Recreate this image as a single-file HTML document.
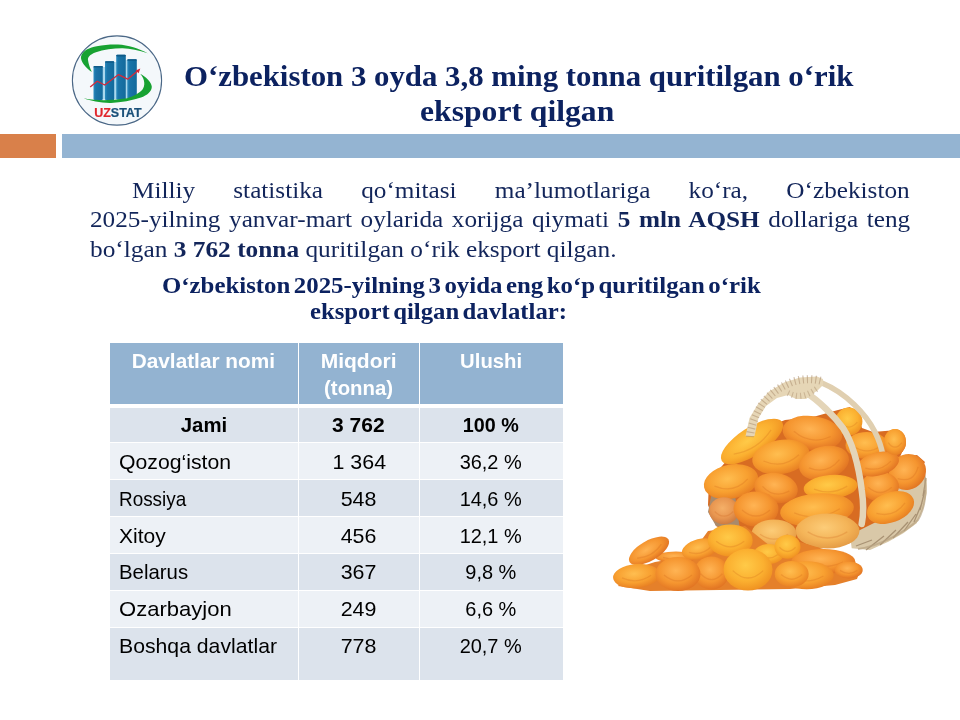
<!DOCTYPE html>
<html><head><meta charset="utf-8">
<style>
html,body{margin:0;padding:0;background:#fff;}
body{width:960px;height:720px;position:relative;overflow:hidden;}
#ttl,#body,#sub,#tbl,#logo{will-change:transform;}
.a{position:absolute;white-space:nowrap;}
.serif{font-family:"Liberation Serif",serif;}
.sans{font-family:"Liberation Sans",sans-serif;}
#ttl div{position:absolute;font-family:"Liberation Serif",serif;font-weight:bold;color:#0c2260;font-size:28.7px;line-height:28.7px;transform-origin:0 0;white-space:nowrap;}
#body div{position:absolute;font-family:"Liberation Serif",serif;color:#12255a;font-size:23.8px;line-height:23.8px;transform-origin:0 0;white-space:nowrap;}
#sub div{position:absolute;font-family:"Liberation Serif",serif;font-weight:bold;color:#0c2260;font-size:23px;line-height:23px;transform-origin:0 0;white-space:nowrap;}
.cell{position:absolute;}
.t{position:absolute;font-family:"Liberation Sans",sans-serif;font-size:18px;line-height:18px;color:#000;white-space:nowrap;}
.th{position:absolute;font-family:"Liberation Sans",sans-serif;font-weight:bold;font-size:18px;line-height:18px;color:#fff;white-space:nowrap;}
</style></head>
<body>
<!-- bars -->
<div class="a" style="left:0;top:134px;width:56px;height:24px;background:#d9804a;"></div>
<div class="a" style="left:62px;top:134px;width:898px;height:24px;background:#94b4d2;"></div>

<!-- logo placeholder -->
<svg id="logo" class="a" style="left:66px;top:30px;" width="100" height="100" viewBox="0 0 100 100">
<defs>
<linearGradient id="bg" x1="0" x2="1" y1="0" y2="0">
<stop offset="0" stop-color="#2b8cc0"/><stop offset="0.25" stop-color="#1a74a8"/><stop offset="1" stop-color="#136a9c"/>
</linearGradient>
</defs>
<circle cx="51" cy="50.5" r="44.6" fill="#f4f8fb" stroke="#4a6786" stroke-width="1.1"/>
<path d="M25.8,42.1 C19,37 14.5,31 15,26.7 C16,21 24,17 30.8,16.25 C38,14.8 45,14.4 52,14.6 C62,15.2 73,18.5 81.7,23.3 C73,20.5 64,18.6 56.7,18.3 C48,18.2 38,19.6 29.2,22.5 C24,24.5 21.5,27.5 22,30 C22.5,34 24,38 25.8,42.1 Z" fill="#17a232"/>
<g fill="#a9d8ee"><rect x="36.6" y="37" width="2.6" height="32.5"/><rect x="48" y="32" width="2.4" height="37"/><rect x="59.6" y="30" width="1.9" height="38"/></g>
<g fill="url(#bg)">
<rect x="27.5" y="36" width="9.3" height="34" rx="1.2"/>
<rect x="39" y="31.25" width="9.2" height="39" rx="1.2"/>
<rect x="50.2" y="24.8" width="9.6" height="45" rx="1.2"/>
<rect x="61.25" y="29.2" width="9.55" height="39.3" rx="1.2"/>
</g>
<g fill="#0e5a88"><rect x="27.5" y="36" width="9.3" height="1.6" rx="0.8"/><rect x="39" y="31.25" width="9.2" height="1.6" rx="0.8"/><rect x="50.2" y="24.8" width="9.6" height="1.6" rx="0.8"/><rect x="61.25" y="29.2" width="9.55" height="1.6" rx="0.8"/></g>
<polyline points="24.2,57.1 31.25,51.25 38.75,55 52.5,44.6 61.7,49.2 71.8,40.8" fill="none" stroke="#d42a3a" stroke-width="1.3" stroke-linejoin="round"/>
<path d="M74.3,38.6 L69.6,40.6 L72.6,43.2 Z" fill="#d42a3a"/>
<path d="M74.2,43.75 C80,47 85.5,52 85.8,56.7 C86,61 81,65.5 75,67.5 C66,70.5 55,72.6 45,72.9 C35,73.1 25,71 17.5,68.3 C25,69.8 32,70.2 38,70.2 C48,70 56,69 61,68.3 C67,66.5 73,63.5 76.5,59.5 C79,56 79.5,50 74.2,43.75 Z" fill="#17a232"/>
<text x="28.2" y="87.4" font-family="Liberation Sans, sans-serif" font-weight="bold" font-size="12.4" stroke-width="0.2" textLength="47.4" lengthAdjust="spacingAndGlyphs"><tspan fill="#e0262c" stroke="#e0262c">UZ</tspan><tspan fill="#1a5079" stroke="#1a5079">STAT</tspan></text>
</svg>

<!-- title -->
<div id="ttl">
<div style="left:184px;top:62px;transform:scaleX(1.074);">O‘zbekiston 3 oyda 3,8 ming tonna quritilgan o‘rik</div>
<div style="left:420px;top:97px;transform:scaleX(1.103);">eksport qilgan</div>
</div>

<!-- body paragraph -->
<div id="body">
<div style="left:132px;top:179.4px;width:733px;text-align:justify;text-align-last:justify;transform:scaleX(1.061);">Milliy statistika qo‘mitasi ma’lumotlariga ko‘ra, O‘zbekiston</div>
<div style="left:90px;top:208.3px;width:773px;text-align:justify;text-align-last:justify;transform:scaleX(1.061);">2025-yilning yanvar-mart oylarida xorijga qiymati <b>5 mln AQSH</b> dollariga teng</div>
<div style="left:90px;top:237.5px;transform:scaleX(1.065);">bo‘lgan <b>3 762 tonna</b> quritilgan o‘rik eksport qilgan.</div>
</div>

<!-- subtitle -->
<div id="sub">
<div style="left:162px;top:273.6px;word-spacing:-2.5px;transform:scaleX(1.08);">O‘zbekiston 2025-yilning 3 oyida eng ko‘p quritilgan o‘rik</div>
<div style="left:310px;top:300.4px;word-spacing:-2.5px;transform:scaleX(1.075);">eksport qilgan davlatlar:</div>
</div>

<!-- table -->
<div id="tbl">
<div class="cell" style="left:110px;top:343px;width:188px;height:61px;background:#93b3d1;"></div>
<div class="cell" style="left:299px;top:343px;width:120px;height:61px;background:#93b3d1;"></div>
<div class="cell" style="left:420px;top:343px;width:143px;height:61px;background:#93b3d1;"></div>
<div class="cell" style="left:110px;top:408px;width:188px;height:34px;background:#dce3ec;"></div>
<div class="cell" style="left:299px;top:408px;width:120px;height:34px;background:#dce3ec;"></div>
<div class="cell" style="left:420px;top:408px;width:143px;height:34px;background:#dce3ec;"></div>
<div class="cell" style="left:110px;top:443px;width:188px;height:36px;background:#edf1f6;"></div>
<div class="cell" style="left:299px;top:443px;width:120px;height:36px;background:#edf1f6;"></div>
<div class="cell" style="left:420px;top:443px;width:143px;height:36px;background:#edf1f6;"></div>
<div class="cell" style="left:110px;top:480px;width:188px;height:36px;background:#dce3ec;"></div>
<div class="cell" style="left:299px;top:480px;width:120px;height:36px;background:#dce3ec;"></div>
<div class="cell" style="left:420px;top:480px;width:143px;height:36px;background:#dce3ec;"></div>
<div class="cell" style="left:110px;top:517px;width:188px;height:36px;background:#edf1f6;"></div>
<div class="cell" style="left:299px;top:517px;width:120px;height:36px;background:#edf1f6;"></div>
<div class="cell" style="left:420px;top:517px;width:143px;height:36px;background:#edf1f6;"></div>
<div class="cell" style="left:110px;top:554px;width:188px;height:36px;background:#dce3ec;"></div>
<div class="cell" style="left:299px;top:554px;width:120px;height:36px;background:#dce3ec;"></div>
<div class="cell" style="left:420px;top:554px;width:143px;height:36px;background:#dce3ec;"></div>
<div class="cell" style="left:110px;top:591px;width:188px;height:36px;background:#edf1f6;"></div>
<div class="cell" style="left:299px;top:591px;width:120px;height:36px;background:#edf1f6;"></div>
<div class="cell" style="left:420px;top:591px;width:143px;height:36px;background:#edf1f6;"></div>
<div class="cell" style="left:110px;top:628px;width:188px;height:52px;background:#dce3ec;"></div>
<div class="cell" style="left:299px;top:628px;width:120px;height:52px;background:#dce3ec;"></div>
<div class="cell" style="left:420px;top:628px;width:143px;height:52px;background:#dce3ec;"></div>
<div class="th" style="left:53.400000000000006px;width:300px;text-align:center;top:349.82px;font-size:21px;line-height:21px;"><span style="display:inline-block;transform:scaleX(0.99);">Davlatlar nomi</span></div>
<div class="th" style="left:208.60000000000002px;width:300px;text-align:center;top:350.02px;font-size:21px;line-height:21px;"><span style="display:inline-block;transform:scaleX(1.0);">Miqdori</span></div>
<div class="th" style="left:208.7px;width:300px;text-align:center;top:376.72px;font-size:21px;line-height:21px;"><span style="display:inline-block;transform:scaleX(0.97);">(tonna)</span></div>
<div class="th" style="left:340.8px;width:300px;text-align:center;top:349.92px;font-size:21px;line-height:21px;"><span style="display:inline-block;transform:scaleX(0.965);">Ulushi</span></div>
<div class="t" style="left:54px;width:300px;text-align:center;top:414.42px;font-size:21px;line-height:21px;"><span style="display:inline-block;transform:scaleX(0.97);"><b>Jami</b></span></div>
<div class="t" style="left:208.3px;width:300px;text-align:center;top:414.42px;font-size:21px;line-height:21px;"><span style="display:inline-block;transform:scaleX(1.0);"><b>3 762</b></span></div>
<div class="t" style="left:340.7px;width:300px;text-align:center;top:414.42px;font-size:21px;line-height:21px;"><span style="display:inline-block;transform:scaleX(0.94);"><b>100 %</b></span></div>
<div class="t" style="left:119px;top:450.82px;font-size:21px;line-height:21px;transform-origin:0 0;transform:scaleX(1.01);">Qozog‘iston</div>
<div class="t" style="left:208.8px;width:300px;text-align:center;top:450.82px;font-size:21px;line-height:21px;"><span style="display:inline-block;transform:scaleX(1.02);">1 364</span></div>
<div class="t" style="left:341px;width:300px;text-align:center;top:450.82px;font-size:21px;line-height:21px;"><span style="display:inline-block;transform:scaleX(0.95);">36,2 %</span></div>
<div class="t" style="left:119px;top:488.22px;font-size:21px;line-height:21px;transform-origin:0 0;transform:scaleX(0.9);">Rossiya</div>
<div class="t" style="left:208.8px;width:300px;text-align:center;top:488.22px;font-size:21px;line-height:21px;"><span style="display:inline-block;transform:scaleX(1.02);">548</span></div>
<div class="t" style="left:341px;width:300px;text-align:center;top:488.22px;font-size:21px;line-height:21px;"><span style="display:inline-block;transform:scaleX(0.95);">14,6 %</span></div>
<div class="t" style="left:119px;top:524.62px;font-size:21px;line-height:21px;transform-origin:0 0;transform:scaleX(1.0);">Xitoy</div>
<div class="t" style="left:208.8px;width:300px;text-align:center;top:524.62px;font-size:21px;line-height:21px;"><span style="display:inline-block;transform:scaleX(1.02);">456</span></div>
<div class="t" style="left:341px;width:300px;text-align:center;top:524.62px;font-size:21px;line-height:21px;"><span style="display:inline-block;transform:scaleX(0.95);">12,1 %</span></div>
<div class="t" style="left:119px;top:561.22px;font-size:21px;line-height:21px;transform-origin:0 0;transform:scaleX(0.97);">Belarus</div>
<div class="t" style="left:208.8px;width:300px;text-align:center;top:561.22px;font-size:21px;line-height:21px;"><span style="display:inline-block;transform:scaleX(1.02);">367</span></div>
<div class="t" style="left:341px;width:300px;text-align:center;top:561.22px;font-size:21px;line-height:21px;"><span style="display:inline-block;transform:scaleX(0.95);">9,8 %</span></div>
<div class="t" style="left:119px;top:598.42px;font-size:21px;line-height:21px;transform-origin:0 0;transform:scaleX(1.05);">Ozarbayjon</div>
<div class="t" style="left:208.8px;width:300px;text-align:center;top:598.42px;font-size:21px;line-height:21px;"><span style="display:inline-block;transform:scaleX(1.02);">249</span></div>
<div class="t" style="left:341px;width:300px;text-align:center;top:598.42px;font-size:21px;line-height:21px;"><span style="display:inline-block;transform:scaleX(0.95);">6,6 %</span></div>
<div class="t" style="left:119px;top:635.02px;font-size:21px;line-height:21px;transform-origin:0 0;transform:scaleX(1.01);">Boshqa davlatlar</div>
<div class="t" style="left:208.8px;width:300px;text-align:center;top:635.02px;font-size:21px;line-height:21px;"><span style="display:inline-block;transform:scaleX(1.02);">778</span></div>
<div class="t" style="left:341px;width:300px;text-align:center;top:635.02px;font-size:21px;line-height:21px;"><span style="display:inline-block;transform:scaleX(0.95);">20,7 %</span></div>
</div>

<!-- apricots -->
<svg id="apr" class="a" style="left:600px;top:360px;" width="350" height="250" viewBox="600 360 350 250">
<defs>
<radialGradient id="ga" cx="0.45" cy="0.4" r="0.62"><stop offset="0" stop-color="#ffbe50"/><stop offset="0.6" stop-color="#f8a030"/><stop offset="1" stop-color="#e77e22"/></radialGradient>
<radialGradient id="gy" cx="0.45" cy="0.4" r="0.62"><stop offset="0" stop-color="#ffca48"/><stop offset="0.6" stop-color="#fbb030"/><stop offset="1" stop-color="#ef9020"/></radialGradient>
<radialGradient id="gr" cx="0.45" cy="0.4" r="0.62"><stop offset="0" stop-color="#ffb454"/><stop offset="0.6" stop-color="#f5952f"/><stop offset="1" stop-color="#e07222"/></radialGradient>
<radialGradient id="gd" cx="0.45" cy="0.4" r="0.62"><stop offset="0" stop-color="#f5b068"/><stop offset="0.6" stop-color="#e89650"/><stop offset="1" stop-color="#cc7a40"/></radialGradient>
<radialGradient id="gp" cx="0.45" cy="0.4" r="0.62"><stop offset="0" stop-color="#fccc78"/><stop offset="0.6" stop-color="#f4b458"/><stop offset="1" stop-color="#e49a44"/></radialGradient>
</defs>
<path d="M709,480 L722,466 L740,445 L765,428 L785,420 L813,417 L838,410 L850,407 L858,417 L862,428 L873,432 L897,430 L904,437 L903,450 L900,457 L917,455 L925,462 L916,478 L906,500 L880,525 L856,540 L830,548 L760,548 L716,526 L708,505 Z" fill="#d86c22"/>
<path d="M851.7,548.3 L870,550 L888.3,541.7 L903.3,533.3 L916.7,523.3 L923.3,508.3 L926.7,493.3 L926.7,480 L923.3,471.7 L905,470 L880,520 L850,535 Z" fill="#d9c8a8"/>
<path d="M712,492 L708,512 L716,526 L740,530 L735,495 Z" fill="#a88a6c"/>
<path d="M856,546 L872,540 M866,550 L884,536 M880,545 L896,530 M893,538 L908,522 M904,531 L916,514 M914,522 L922,503 M920,510 L925,490 M923,496 L926,478" fill="none" stroke="#9c8466" stroke-width="1.3" stroke-opacity="0.8"/>
<path d="M858,549 C880,546 905,532 918,520 C925,508 927,490 924,472" fill="none" stroke="#b8a282" stroke-width="2" stroke-opacity="0.7"/>
<g transform="rotate(0 848.9 421.5)"><ellipse cx="848.9" cy="421.5" rx="13.5" ry="14" fill="url(#gy)"/><path d="M840.5,422.2 Q848.9,432.0 857.3,422.2" fill="none" stroke="#c85a18" stroke-opacity="0.22" stroke-width="1.3"/></g>
<g transform="rotate(0 867 445.5)"><ellipse cx="867" cy="445.5" rx="21.5" ry="13.5" fill="url(#ga)"/><path d="M853.7,446.2 Q867.0,455.6 880.3,446.2" fill="none" stroke="#c85a18" stroke-opacity="0.22" stroke-width="1.3"/></g>
<g transform="rotate(0 895 442)"><ellipse cx="895" cy="442" rx="11" ry="13" fill="url(#ga)"/><path d="M888.2,442.6 Q895.0,451.8 901.8,442.6" fill="none" stroke="#c85a18" stroke-opacity="0.22" stroke-width="1.3"/></g>
<g transform="rotate(8 812.4 433)"><ellipse cx="812.4" cy="433" rx="30" ry="17" fill="url(#gr)"/><path d="M793.8,433.9 Q812.4,445.8 831.0,433.9" fill="none" stroke="#c85a18" stroke-opacity="0.22" stroke-width="1.3"/></g>
<g transform="rotate(-33 752 441.5)"><ellipse cx="752" cy="441.5" rx="36" ry="14" fill="url(#gy)"/><path d="M729.7,442.2 Q752.0,452.0 774.3,442.2" fill="none" stroke="#c85a18" stroke-opacity="0.22" stroke-width="1.3"/></g>
<g transform="rotate(-15 878 464)"><ellipse cx="878" cy="464" rx="21.5" ry="11.5" fill="url(#gr)"/><path d="M864.7,464.6 Q878.0,472.6 891.3,464.6" fill="none" stroke="#c85a18" stroke-opacity="0.22" stroke-width="1.3"/></g>
<g transform="rotate(-30 907.4 472)"><ellipse cx="907.4" cy="472" rx="19" ry="17.5" fill="url(#gr)"/><path d="M895.6,472.9 Q907.4,485.1 919.2,472.9" fill="none" stroke="#c85a18" stroke-opacity="0.22" stroke-width="1.3"/></g>
<g transform="rotate(-10 781 457)"><ellipse cx="781" cy="457" rx="29" ry="17" fill="url(#ga)"/><path d="M763.0,457.9 Q781.0,469.8 799.0,457.9" fill="none" stroke="#c85a18" stroke-opacity="0.22" stroke-width="1.3"/></g>
<g transform="rotate(-15 824 463)"><ellipse cx="824" cy="463" rx="25.5" ry="16.5" fill="url(#gr)"/><path d="M808.2,463.8 Q824.0,475.4 839.8,463.8" fill="none" stroke="#c85a18" stroke-opacity="0.22" stroke-width="1.3"/></g>
<g transform="rotate(-12 731 481.7)"><ellipse cx="731" cy="481.7" rx="27.5" ry="17" fill="url(#ga)"/><path d="M714.0,482.6 Q731.0,494.4 748.0,482.6" fill="none" stroke="#c85a18" stroke-opacity="0.22" stroke-width="1.3"/></g>
<g transform="rotate(0 880 486.5)"><ellipse cx="880" cy="486.5" rx="19" ry="15" fill="url(#gr)"/><path d="M868.2,487.2 Q880.0,497.8 891.8,487.2" fill="none" stroke="#c85a18" stroke-opacity="0.22" stroke-width="1.3"/></g>
<g transform="rotate(10 776 488)"><ellipse cx="776" cy="488" rx="22" ry="15" fill="url(#gr)"/><path d="M762.4,488.8 Q776.0,499.2 789.6,488.8" fill="none" stroke="#c85a18" stroke-opacity="0.22" stroke-width="1.3"/></g>
<g transform="rotate(-5 830.6 487)"><ellipse cx="830.6" cy="487" rx="27" ry="12" fill="url(#gy)"/><path d="M813.9,487.6 Q830.6,496.0 847.3,487.6" fill="none" stroke="#c85a18" stroke-opacity="0.22" stroke-width="1.3"/></g>
<g transform="rotate(0 724 510.8)"><ellipse cx="724" cy="510.8" rx="15" ry="13.5" fill="url(#gd)"/><path d="M714.7,511.5 Q724.0,520.9 733.3,511.5" fill="none" stroke="#c85a18" stroke-opacity="0.22" stroke-width="1.3"/></g>
<g transform="rotate(0 756 509)"><ellipse cx="756" cy="509" rx="22.5" ry="17.5" fill="url(#gr)"/><path d="M742.0,509.9 Q756.0,522.1 770.0,509.9" fill="none" stroke="#c85a18" stroke-opacity="0.22" stroke-width="1.3"/></g>
<g transform="rotate(-20 890.5 507.5)"><ellipse cx="890.5" cy="507.5" rx="24.5" ry="15" fill="url(#ga)"/><path d="M875.3,508.2 Q890.5,518.8 905.7,508.2" fill="none" stroke="#c85a18" stroke-opacity="0.22" stroke-width="1.3"/></g>
<g transform="rotate(-5 817 510)"><ellipse cx="817" cy="510" rx="37" ry="16.5" fill="url(#ga)"/><path d="M794.1,510.8 Q817.0,522.4 839.9,510.8" fill="none" stroke="#c85a18" stroke-opacity="0.22" stroke-width="1.3"/></g>
<g transform="rotate(0 827.5 531)"><ellipse cx="827.5" cy="531" rx="32" ry="17.5" fill="url(#gp)"/><path d="M807.7,531.9 Q827.5,544.1 847.3,531.9" fill="none" stroke="#c85a18" stroke-opacity="0.22" stroke-width="1.3"/></g>
<g transform="rotate(0 774 533.5)"><ellipse cx="774" cy="533.5" rx="22.5" ry="14" fill="url(#gp)"/><path d="M760.0,534.2 Q774.0,544.0 788.0,534.2" fill="none" stroke="#c85a18" stroke-opacity="0.22" stroke-width="1.3"/></g>
<path d="M822,383 C846,393 866,414 875,432 C880,442 882,450 883,456" fill="none" stroke="#e0cfb0" stroke-width="5.5" stroke-linecap="round"/>
<g transform="rotate(-15 878 464)"><ellipse cx="878" cy="464" rx="21.5" ry="11.5" fill="url(#gr)"/><path d="M864.7,464.6 Q878.0,472.6 891.3,464.6" fill="none" stroke="#c85a18" stroke-opacity="0.22" stroke-width="1.3"/></g>
<g transform="rotate(0 895 442)"><ellipse cx="895" cy="442" rx="11" ry="13" fill="url(#ga)"/><path d="M888.2,442.6 Q895.0,451.8 901.8,442.6" fill="none" stroke="#c85a18" stroke-opacity="0.22" stroke-width="1.3"/></g>
<path d="M806.7,393.3 C818,400 834,416 843,428 C852,442 858,460 861.7,490 C864,505 863.5,515 861.7,524" fill="none" stroke="#e4d5b8" stroke-width="6.5" stroke-linecap="round"/>
<path d="M745.6,436 L749.5,418 L758,404 L769,391.5 L784,382.5 L800,377.5 L817,376.5 L823,379 L823,385 L818,390 L806,399 L796,399 L788,395 L777,398 L766,406 L758.5,418 L754.5,436 Z" fill="#e6d6b6"/>
<path d="M750,437 C751,425 756,413 763,403 C770,394 779,387 792,382 C802,378.5 813,378.5 822,381" fill="none" stroke="#b09474" stroke-width="8" stroke-dasharray="1.1 3.1" stroke-opacity="0.6"/>
<path d="M788,393 C796,397 804,398 818,388" fill="none" stroke="#b09474" stroke-width="6" stroke-dasharray="1.1 3.1" stroke-opacity="0.5"/>
<path d="M618,586 L630,570 L655,562 L690,556 L708,531 L745,526 L770,546 L800,542 L850,557 L861,568 L857,579 L835,585 L790,589 L720,590 L650,591 Z" fill="#e5802a"/>
<g transform="rotate(0 676 557)"><ellipse cx="676" cy="557" rx="21" ry="5.5" fill="url(#gr)"/><path d="M663.0,557.3 Q676.0,561.1 689.0,557.3" fill="none" stroke="#c85a18" stroke-opacity="0.22" stroke-width="1.3"/></g>
<g transform="rotate(-30 649 550.8)"><ellipse cx="649" cy="550.8" rx="22.5" ry="10" fill="url(#gr)"/><path d="M635.0,551.3 Q649.0,558.3 663.0,551.3" fill="none" stroke="#c85a18" stroke-opacity="0.22" stroke-width="1.3"/></g>
<g transform="rotate(-5 636.5 576)"><ellipse cx="636.5" cy="576" rx="23.5" ry="12" fill="url(#ga)"/><path d="M621.9,576.6 Q636.5,585.0 651.1,576.6" fill="none" stroke="#c85a18" stroke-opacity="0.22" stroke-width="1.3"/></g>
<g transform="rotate(-15 700 549)"><ellipse cx="700" cy="549" rx="18.5" ry="10" fill="url(#ga)"/><path d="M688.5,549.5 Q700.0,556.5 711.5,549.5" fill="none" stroke="#c85a18" stroke-opacity="0.22" stroke-width="1.3"/></g>
<g transform="rotate(0 730.2 540.4)"><ellipse cx="730.2" cy="540.4" rx="22.5" ry="16" fill="url(#gy)"/><path d="M716.2,541.2 Q730.2,552.4 744.2,541.2" fill="none" stroke="#c85a18" stroke-opacity="0.22" stroke-width="1.3"/></g>
<g transform="rotate(0 711.5 573)"><ellipse cx="711.5" cy="573" rx="17.5" ry="16.5" fill="url(#gr)"/><path d="M700.6,573.8 Q711.5,585.4 722.4,573.8" fill="none" stroke="#c85a18" stroke-opacity="0.22" stroke-width="1.3"/></g>
<g transform="rotate(0 678 574)"><ellipse cx="678" cy="574" rx="22.5" ry="17" fill="url(#gr)"/><path d="M664.0,574.9 Q678.0,586.8 692.0,574.9" fill="none" stroke="#c85a18" stroke-opacity="0.22" stroke-width="1.3"/></g>
<g transform="rotate(0 768.75 554)"><ellipse cx="768.75" cy="554" rx="15" ry="10" fill="url(#gy)"/><path d="M759.5,554.5 Q768.8,561.5 778.0,554.5" fill="none" stroke="#c85a18" stroke-opacity="0.22" stroke-width="1.3"/></g>
<g transform="rotate(0 787.5 546.7)"><ellipse cx="787.5" cy="546.7" rx="13" ry="12" fill="url(#gy)"/><path d="M779.4,547.3 Q787.5,555.7 795.6,547.3" fill="none" stroke="#c85a18" stroke-opacity="0.22" stroke-width="1.3"/></g>
<g transform="rotate(0 823.3 561.5)"><ellipse cx="823.3" cy="561.5" rx="32" ry="12.5" fill="url(#gr)"/><path d="M803.5,562.1 Q823.3,570.9 843.1,562.1" fill="none" stroke="#c85a18" stroke-opacity="0.22" stroke-width="1.3"/></g>
<g transform="rotate(0 848.7 570)"><ellipse cx="848.7" cy="570" rx="14" ry="8.5" fill="url(#gr)"/><path d="M840.0,570.4 Q848.7,576.4 857.4,570.4" fill="none" stroke="#c85a18" stroke-opacity="0.22" stroke-width="1.3"/></g>
<g transform="rotate(0 748 569.6)"><ellipse cx="748" cy="569.6" rx="24.5" ry="21" fill="url(#gy)"/><path d="M732.8,570.6 Q748.0,585.4 763.2,570.6" fill="none" stroke="#c85a18" stroke-opacity="0.22" stroke-width="1.3"/></g>
<g transform="rotate(0 806.7 575.3)"><ellipse cx="806.7" cy="575.3" rx="27" ry="14" fill="url(#ga)"/><path d="M790.0,576.0 Q806.7,585.8 823.4,576.0" fill="none" stroke="#c85a18" stroke-opacity="0.22" stroke-width="1.3"/></g>
<g transform="rotate(0 791.7 574)"><ellipse cx="791.7" cy="574" rx="17" ry="13" fill="url(#ga)"/><path d="M781.2,574.6 Q791.7,583.8 802.2,574.6" fill="none" stroke="#c85a18" stroke-opacity="0.22" stroke-width="1.3"/></g>
</svg>
</body></html>
